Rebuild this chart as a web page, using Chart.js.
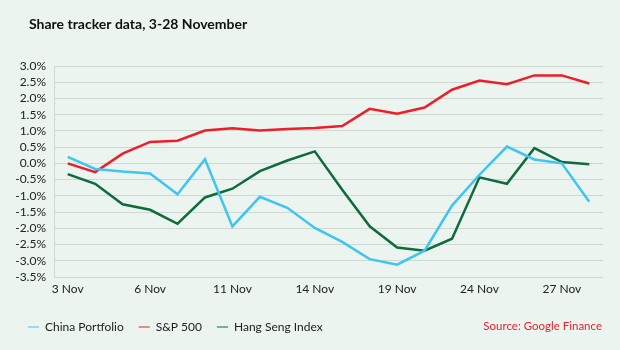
<!DOCTYPE html>
<html>
<head>
<meta charset="utf-8">
<script src="https://cdn.jsdelivr.net/npm/chart.js@4.4.0/dist/chart.umd.min.js"></script>
<style>
  html, body { margin: 0; padding: 0; background: #ebf4ee; }
  #wrap { width: 620px; height: 350px; position: relative; }
</style>
</head>
<body>
<div id="wrap"><canvas id="chart" width="620" height="350"></canvas></div>
<script>
// Trading days, 3-28 November
const days = ['3 Nov', '4 Nov', '5 Nov', '6 Nov', '7 Nov', '10 Nov', '11 Nov', '12 Nov', '13 Nov', '14 Nov',
    '17 Nov', '18 Nov', '19 Nov', '20 Nov', '21 Nov', '24 Nov', '25 Nov', '26 Nov', '27 Nov', '28 Nov'];

// Dates that get a label on the x axis
const xTickLabels = ['3 Nov', '6 Nov', '11 Nov', '14 Nov', '19 Nov', '24 Nov', '27 Nov'];

// Series values (% change)
const chinaPortfolio = [0.20, -0.17, -0.25, -0.31, -0.95, 0.13, -1.94, -1.03, -1.37, -1.99,
    -2.42, -2.95, -3.12, -2.69, -1.30, -0.35, 0.52, 0.12, 0.00, -1.18];
const sp500 = [0.00, -0.27, 0.30, 0.66, 0.70, 1.01, 1.08, 1.01, 1.06, 1.09,
    1.15, 1.68, 1.53, 1.72, 2.27, 2.55, 2.44, 2.71, 2.71, 2.46];
const hangSeng = [-0.33, -0.63, -1.26, -1.43, -1.86, -1.05, -0.78, -0.24, 0.09, 0.37,
    -0.81, -1.94, -2.59, -2.69, -2.32, -0.43, -0.63, 0.47, 0.04, -0.03];

const FONT = 'Lato, "Open Sans", sans-serif';

// Title and source text
const extraText = {
    id: 'extraText',
    afterDraw(chart) {
        const ctx = chart.ctx;
        ctx.save();
        ctx.textBaseline = 'middle';
        ctx.fillStyle = '#111';
        ctx.font = 'bold 14px ' + FONT;
        ctx.textAlign = 'left';
        ctx.fillText('Share tracker data, 3-28 November', 29, 24);
        ctx.fillStyle = '#ee1d2a';
        ctx.font = '11.5px ' + FONT;
        ctx.textAlign = 'right';
        ctx.fillText('Source: Google Finance', 602, 326);
        ctx.restore();
    }
};

const ctx = document.getElementById('chart').getContext('2d');
new Chart(ctx, {
    type: 'line',
    data: {
        labels: days,
        datasets: [
            { label: 'China Portfolio', data: chinaPortfolio, borderColor: '#40c4f0', backgroundColor: '#40c4f0' },
            { label: 'S&P 500', data: sp500, borderColor: '#ee1d2a', backgroundColor: '#ee1d2a' },
            { label: 'Hang Seng Index', data: hangSeng, borderColor: '#0e6b3b', backgroundColor: '#0e6b3b' }
        ]
    },
    options: {
        responsive: false,
        animation: false,
        devicePixelRatio: 1,
        layout: { padding: { left: 13, right: 17, top: 66, bottom: 7 } },
        elements: {
            line: { borderWidth: 2.5, tension: 0 },
            point: { radius: 0, hoverRadius: 0 }
        },
        plugins: {
            legend: {
                position: 'bottom',
                align: 'start',
                labels: {
                    usePointStyle: true,
                    pointStyle: 'line',
                    pointStyleWidth: 11,
                    boxHeight: 12,
                    padding: 15,
                    color: '#222',
                    font: { family: FONT, size: 12 }
                }
            },
            tooltip: { enabled: false }
        },
        scales: {
            x: {
                offset: true,
                grid: { display: false, drawTicks: false },
                border: { display: false },
                afterFit: axis => { axis.height = 29; },
                ticks: {
                    padding: 5,
                    color: '#222',
                    font: { family: FONT, size: 12 },
                    autoSkip: false,
                    maxRotation: 0,
                    callback: (v, i) => xTickLabels.includes(days[i]) ? days[i] : ''
                }
            },
            y: {
                min: -3.5,
                max: 3.0,
                grid: { color: '#cfd9d2', lineWidth: 1, drawTicks: false },
                border: { display: true, color: '#cfd9d2' },
                afterFit: axis => { axis.width = 41; },
                ticks: {
                    stepSize: 0.5,
                    autoSkip: false,
                    padding: 8,
                    color: '#222',
                    font: { family: FONT, size: 12 },
                    callback: v => v.toFixed(1) + '%'
                }
            }
        }
    },
    plugins: [extraText]
});
</script>
</body>
</html>
